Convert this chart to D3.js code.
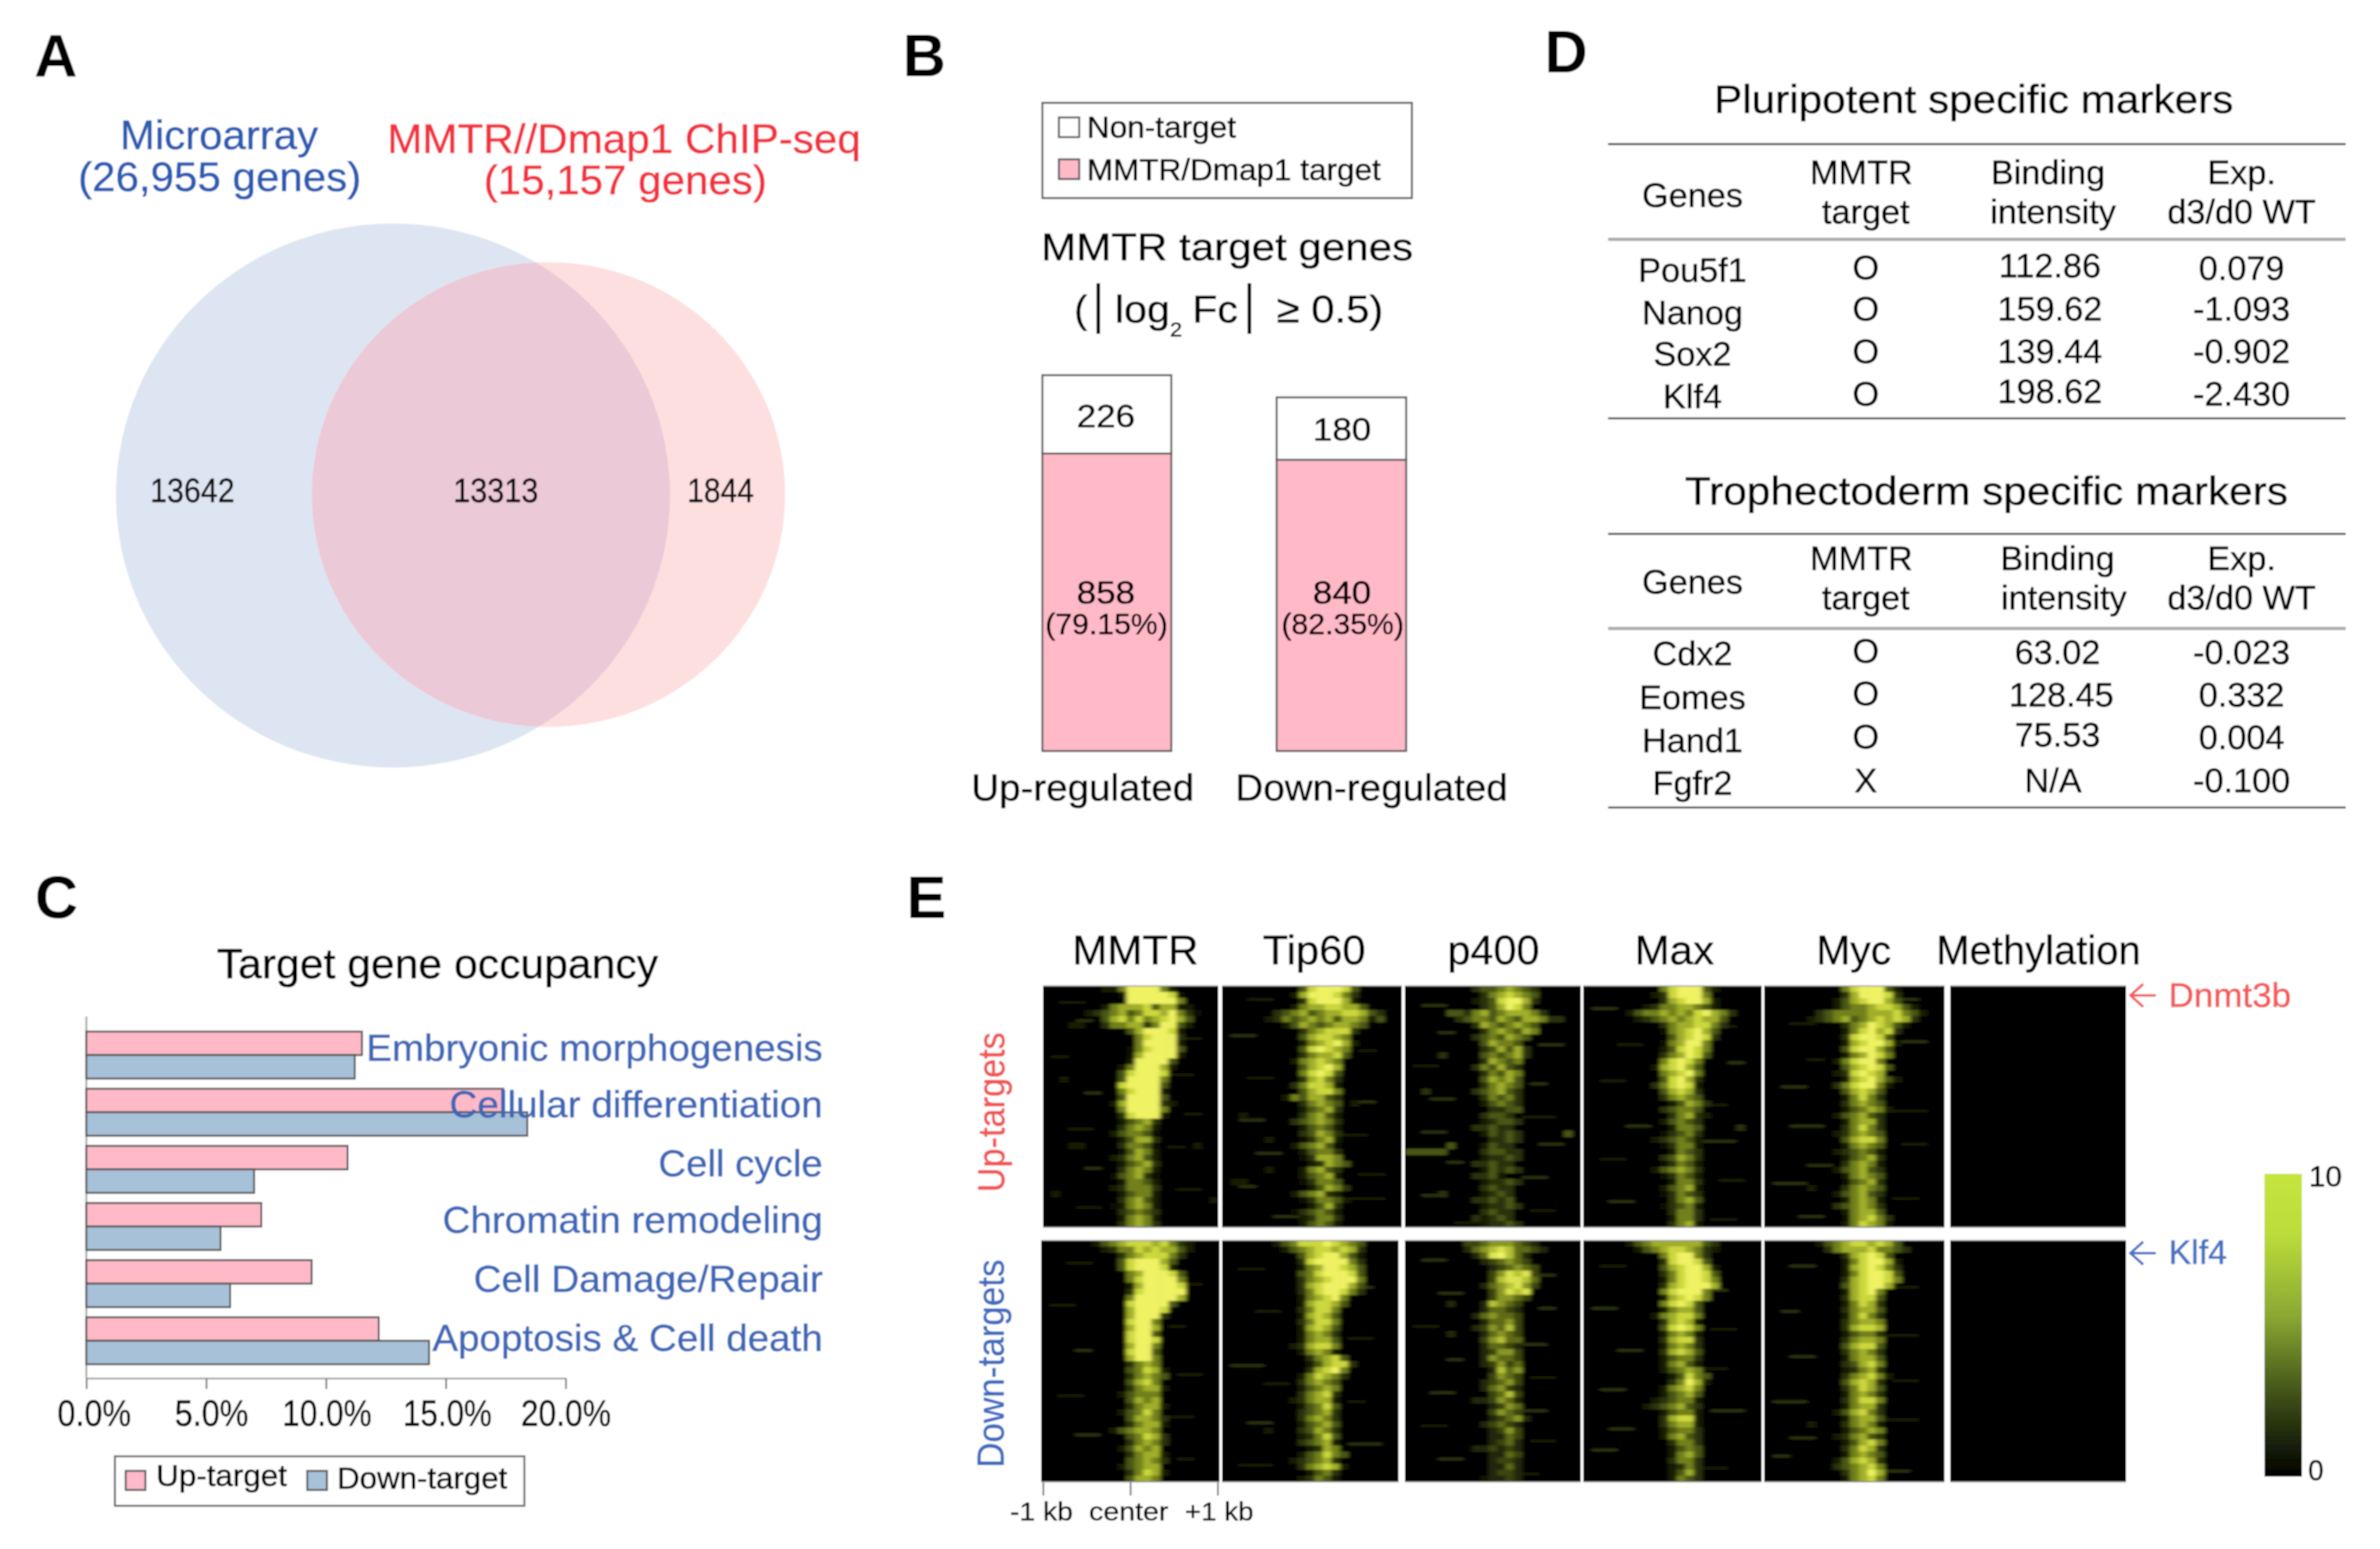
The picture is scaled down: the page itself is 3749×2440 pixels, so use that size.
<!DOCTYPE html>
<html><head><meta charset="utf-8">
<script src="https://cdn.jsdelivr.net/npm/d3@7"></script>
<style>html,body{margin:0;padding:0;background:#fff}svg{display:block}text{font-family:"Liberation Sans",Arial,sans-serif}</style>
</head><body><div id="chart"></div>
<script>
// ---- Panel A
const vennSets = [26955, 15157];
const vennRegions = [13642, 13313, 1844];
// ---- Panel B
const barGroups = ["Up-regulated", "Down-regulated"];
const targetCounts = [858, 840];
const nonTargetCounts = [226, 180];
const targetPercents = ["(79.15%)", "(82.35%)"];
// ---- Panel C
const goTerms = ["Embryonic morphogenesis","Cellular differentiation","Cell cycle","Chromatin remodeling","Cell Damage/Repair","Apoptosis & Cell death"];
const upTarget = [11.5, 17.4, 10.9, 7.3, 9.4, 12.2];
const downTarget = [11.2, 18.4, 7.0, 5.6, 6.0, 14.3];
const occupancyTicks = [0, 5, 10, 15, 20];
// ---- Panel D
const pluriGenes = ["Pou5f1","Nanog","Sox2","Klf4"];
const pluriTarget = ["O","O","O","O"];
const pluriBinding = ["112.86","159.62","139.44","198.62"];
const pluriExp = ["0.079","-1.093","-0.902","-2.430"];
const tropGenes = ["Cdx2","Eomes","Hand1","Fgfr2"];
const tropTarget = ["O","O","O","X"];
const tropBinding = ["63.02","128.45","75.53","N/A"];
const tropExp = ["-0.023","0.332","0.004","-0.100"];
// ---- Panel E (each row is a stretch of genes, each digit a signal bin, 0-9)
const heatColumns = ["MMTR","Tip60","p400","Max","Myc","Methylation"];
const mmtrUp = ["000000033699996300000","000000000299999810000","000000000099999960000","000000036777857733000","000003456756887964200","000000057868678975000","000330046677469953000","000000000057999830000","000000000006899940000","000000000006999930000","000000000026899950000","000000000027999930000","000000000039999500000","000000000369997300000","000000000589998000000","003000000599996000000","000000000899995000000","000000000689993000000","000000000599995000000","000000003799994300000","000000000699996000000","000000000489993000000","000000000356740000000","000000000467630000000","000000003566520000000","000000000357740000000","000330000466520000300","000000000257630000000","000000003467530000000","000000000356740000000","000000000467630000000","000000002567420000000","000000000366530000000","000000003466640000000","030000000356630000000","000000000467530000003","000000002367630000000","000000000456540000000","000000000367630000000","000000000467640000000"];
const tip60Up = ["000000000589998500000","000000003799986400000","000000000489997300000","000000003677887750000","000000456756778875400","000003465676757763500","000000035765677650000","000000000467888400000","000000000578876000000","000000000367897300000","000000000589876000000","000000000467785000000","000000003678760000000","000000000578970000000","000000000689850000000","000000000478640000000","000000004688730000000","000000000578860000000","000000036577540000000","000000000467650300000","000000000356740000000","003000000467530000000","000000004567640000000","000000000356530000000","000000000457640000000","000003000246730000000","000000003567520000000","000000000356640000000","000000000247760000000","000000000034765000000","000003000367540000000","000000000356730000000","033000000246650000000","000000000035764000000","000000003567430000000","000000000246653000000","000000000035740000000","000000002456530000000","000000000346640000000","000000000356530000000"];
const p400Up = ["000000003445654300000","000000000356765400000","000000002347886300000","000000000346875000000","000004435645666530000","000000345546546653300","000000003654565400000","000000000356546500000","000000003454654000000","000000000465540000000","000000000346463000000","000030000454563000000","000000000365450000000","000000003546430000000","000000000354650000000","000000000465640000000","000000000356540000000","003000003456430000000","000000000354530000000","000000000245430000000","000000000033440000000","000000000344300000000","000000000234430000000","000000003343300000000","000000000243430000040","000000000033430000000","000004000243300000000","444440000344330000000","000000000233430000000","000000003343300000000","000000000243430000000","000000003342000000000","000000000233430000000","000000000343300000000","000030000234300000000","000000003343400000000","000000000233430000000","000000000343300000000","000000003234300000000","000000000233430000000"];
const maxUp = ["000000000689995300000","000000003489996000000","000000000478997300000","000000034667765300000","000003566767689764000","000000345676787750000","000000000467788640000","000000000267897500000","000000000057898400000","000000000267996000000","000000000358986000000","000000000467985000000","000000000689860000000","000000003789750000000","000000000678960000000","000000000589740000000","000000004689830000000","000000000578740000000","000000000467650000000","000000000035764000000","000000000456650000000","000000000046743000000","000000000356540000000","000000000036650000400","000000000245640000000","000000003456530000000","000000000246630000000","000000000036540000000","000000000457640000000","000000000246530000000","000000003567640000000","000000000246530000000","000000000036640000000","000000000356730000000","000000000246540000000","000000000046750000000","000000000245630000000","000000000046640000000","000000000036640000000","000000000046730000000"];
const mycUp = ["000000000689995300000","000000000479998400000","000000003578997500000","000000003566788753000","000000456666777865300","000003456756787874000","000000000467987530000","000000000368978400000","000000000489985000000","000000000378997300000","000000000589975000000","000000000367986000000","000000003689960000000","000000000578985000000","000000003489870000000","000000000378975300000","000000004689963000000","000000000578750000000","000000000368640000000","000000000467650000000","000000000356763000000","000000003567540000000","000000000367740000000","000000000468640000000","000000003467650000000","000000000578860000000","000000000367650000000","000000003456530000000","000000000356740000000","000000000467630000000","000000003567540000000","000000000367650000000","000000000256740000000","000003000467650000000","000000003567540000000","000000000367630000000","000000004567640000000","000000000367750000000","000000000267864000000","000000000368763000000"];
const mmtrDown = ["000000356788878643000","000000034668787753000","000000000467888640000","000000000589997500000","000000000589998300000","000000000067999850000","000000000068999960000","000000000037999980000","000000000048999990000","000000000069999970000","000000000089999500000","000000000079998000000","000000000079994000000","000000000089960000000","000000000079970000000","000000000089950000000","000000000089980000000","000000000079960000000","000000000089950000000","000000000079960000000","000000000046760000000","000000000056873000000","000000000046765000000","000000000057860000000","000000000046773000000","000000000356660000000","000000000057670000000","000000000046773000000","000000000356860000000","000000000057764000000","000000000046773000000","000000003567760000000","000000000056874000000","000000000046764000000","000000000357670000000","000000000046773000000","000000000056764000000","000000000356770000000","000000000046873000000","000000000057760000000"];
const tip60Down = ["000000356888987650000","000000035678878740000","000000000578997530000","000000000489999640000","000000000367998750000","000000000568999850000","000000000467899960000","000000000478999750000","000000000468998640000","000000000367896000000","000000000378875000000","000000000468860000000","000000000378750000000","000000000468860000000","000000000378750000000","000000000367640000000","000000000367750000000","000000003478860000000","000000000367630000000","000000000046785000000","000000000035788400000","000000000047896000000","000000000368764000000","000000000467650000000","000000000356760000000","000000000467840000000","000000003467730000000","000000000356850000000","000000000456740000000","000000000467640000000","000000000356750000000","000003000457640000000","000000000346850000000","000000000456730000000","000000000034760000000","000000000356865000000","000000003456740000000","000000000467873000000","000000000035640000000","000000000346530000000"];
const p400Down = ["000000044566654300000","000000035678755430000","000000003589753000000","000000000345654000000","000000000034565400000","000000000046878400000","000000000047887500000","000000000356786400000","000000000046878000000","000000000046654000000","000003000376540000000","000000000355430000000","000000003565540000000","000000000355640000000","000000003465740000000","000003000356540000000","000000000467550000000","000000000355430000000","000000000346640000000","000000000365540000000","000000000346450000000","000000000037560000000","000000000046540000000","000000000345640000000","000000000356430000000","000000000045740000000","000000003346530000000","000000000034650000000","000000000046540000000","000000000034563000000","000000000345430000000","000000000034640000000","000000000033540000000","000000000034530000000","000000003343430000000","000000000033540000000","000000000034430000000","000000000033530000000","000000000034430000000","000000000233430000000"];
const maxDown = ["000003567777775400000","000000356788764300000","000000000689964000000","000000000489985000000","000000000578997300000","000000000468998500000","000000000368998600000","000000000478999700000","000000000689996000000","000000000378986000000","000000000689850000000","000000000367750000000","000000003678860000000","000000000478730000000","000000000589860000000","000000000367630000000","000000000478840000000","000000000367640000000","000000000478750000000","000000000356640000000","000000000367530000000","000000000356760000000","000000000035865000000","000000000046973000000","000000000367860000000","000000000356750000000","000000003456630000000","000000034567540000000","000000000356630000000","000000000478830000000","000000000467730000000","000000000356640000000","000000000367540000000","000000000046640000000","000000000035650000000","000000000036750000000","000000000046640000000","000000000034640000000","000000000035740000000","000000000036540000000"];
const mycDown = ["000000356788787500000","000000046777866540000","000000000478985000000","000000000368997300000","000000000378986400000","000000000368998500000","000000000478998600000","000000000578997000000","000000000378960000000","000000000478850000000","000000000368740000000","000000000467750000000","000000000368640000000","000000000467760000000","000000000478870000000","000000000356640000000","000000000467760000000","000000000578850000000","000000000467640000000","000000000367750000000","000000000457860000000","000000000346740000000","000000000467863000000","000000000578740000000","000000000468750000000","000000000367640000000","000000000468860000000","000000000367740000000","000000003578640000000","000000000367750000000","000003000467630000000","000000000356760000000","000000003467540000000","000000000357860000000","000000000468740000000","000000000367650000000","000000003578740000000","000000004567860000000","000000000467970000000","000000000367860000000"];
// faint short streaks outside the central band: [row 0-79, first bin, bins long, level]
const flankMmtrUp = [[5,2,3,3],[11,4,2,4],[17,16,3,3],[23,1,2,3],[29,15,3,3],[35,5,2,4],[42,17,2,3],[47,3,3,3],[53,15,2,3],[60,5,2,4],[67,16,3,3],[73,4,3,3]];
const flankTip60Up = [[4,3,3,3],[16,1,3,4],[21,16,2,3],[30,3,3,3],[38,15,3,4],[44,2,3,4],[49,14,3,3],[55,4,3,4],[62,16,3,3],[66,2,2,4],[70,15,4,3],[76,6,3,4]];
const flankP400Up = [[6,2,3,4],[10,15,3,3],[15,4,2,4],[19,16,3,4],[26,1,3,3],[32,15,2,4],[37,3,3,4],[43,14,4,3],[48,2,3,4],[52,16,3,4],[58,5,2,4],[63,14,3,4],[69,2,3,4],[74,15,3,3],[78,6,3,3]];
const flankMaxUp = [[7,1,3,4],[13,15,3,3],[19,4,3,3],[25,17,2,4],[31,2,3,3],[39,15,2,3],[46,5,3,4],[51,14,4,4],[57,2,3,3],[64,16,3,3],[71,3,3,4],[77,15,3,3]];
const flankMycUp = [[4,15,3,4],[12,3,3,3],[18,16,3,4],[24,5,2,3],[33,2,3,4],[41,15,4,3],[46,3,4,4],[52,16,3,3],[59,5,3,4],[65,1,4,4],[70,15,3,3],[76,4,3,4]];
const flankMmtrDown = [[7,3,3,3],[14,16,3,3],[21,1,3,3],[28,15,2,3],[36,4,2,4],[44,16,3,3],[51,2,3,3],[58,15,3,3],[64,4,3,4],[72,16,2,3]];
const flankTip60Down = [[9,2,3,3],[15,16,2,4],[23,4,3,3],[32,15,3,3],[41,1,4,4],[47,5,3,3],[53,15,2,3],[60,3,3,4],[67,15,4,4],[74,2,4,3]];
const flankP400Down = [[6,2,3,4],[11,15,3,4],[17,4,3,4],[22,16,2,4],[28,1,3,3],[34,14,3,4],[39,5,2,4],[45,15,3,3],[50,3,3,4],[56,14,3,4],[61,2,3,3],[66,15,3,3],[72,4,3,4],[77,13,3,3]];
const flankMaxDown = [[8,2,3,3],[16,14,3,4],[22,1,3,4],[29,15,3,3],[36,4,3,4],[42,14,3,3],[49,2,3,4],[56,15,4,4],[62,3,3,4],[69,1,3,4],[75,14,3,3]];
const flankMycDown = [[8,3,3,4],[15,15,3,3],[23,2,2,4],[31,14,4,3],[38,3,3,4],[46,15,3,3],[53,1,4,4],[59,14,4,3],[65,3,3,4],[71,1,2,4],[76,14,3,4]];
const methylationUp = [];
const methylationDown = [];
const scaleStops = [0, 2.6, 5.3, 8, 10];
const kbTicks = [-1, 0, 1];
const kbLabels = ["-1 kb", "center", "+1 kb"];

const W = 3749, H = 2440;
const svg = d3.select("#chart").append("svg").attr("width", W).attr("height", H).attr("viewBox", `0 0 ${W} ${H}`);
const defs = svg.append("defs");
const soft = defs.append("filter").attr("id","soft").attr("x",0).attr("y",0).attr("width",1).attr("height",1).attr("filterUnits","objectBoundingBox");
soft.append("feGaussianBlur").attr("stdDeviation",0.9);
const streak = defs.append("filter").attr("id","streak").attr("x","-5%").attr("y","-5%").attr("width","110%").attr("height","110%");
streak.append("feGaussianBlur").attr("stdDeviation","3 0.9");

const root = svg.append("g").attr("filter","url(#soft)");
root.append("rect").attr("width",W).attr("height",H).attr("fill","#fff");

function T(p, s, o) {
  const c = o.fill||"#000";
  const t = p.append("text").text(s).attr("x",o.x).attr("y",o.y)
    .attr("font-size",o.size).attr("fill",c).attr("stroke",c).attr("stroke-width",o.weight?0:0.7)
    .attr("text-anchor",o.anchor||"middle");
  if (o.weight) t.attr("font-weight",o.weight);
  if (o.w) t.attr("textLength",o.w).attr("lengthAdjust","spacingAndGlyphs");
  return t;
}
// panel letters
[["A",54,121],["B",1422,120],["C",55,1446],["D",2433,114],["E",1428,1446]].forEach(d=>{
  T(root,d[0],{x:d[1],y:d[2],size:94,anchor:"start",weight:700,fill:"#000"});
});

// ===== A =====
const gA = root.append("g");
const rVenn = d3.scaleLinear().domain([vennSets[1],vennSets[0]]).range([369,432]);
const vennCy = [780.5,779], vennCx = [619, 864], vennRx=1.01, vennRy=0.992;
defs.append("clipPath").attr("id","vennClip").append("ellipse").attr("cx",vennCx[0]).attr("cy",vennCy[0]).attr("rx",rVenn(vennSets[0])*vennRx).attr("ry",rVenn(vennSets[0])*vennRy);
gA.selectAll("ellipse.v").data(vennSets).join("ellipse").attr("class","v")
  .attr("cx",(d,i)=>vennCx[i]).attr("cy",(d,i)=>vennCy[i]).attr("rx",d=>rVenn(d)*vennRx).attr("ry",d=>rVenn(d)*vennRy).attr("fill",(d,i)=>i?"#fddfe0":"#dee5f2");
gA.append("ellipse").attr("cx",vennCx[1]).attr("cy",vennCy[1]).attr("rx",rVenn(vennSets[1])*vennRx).attr("ry",rVenn(vennSets[1])*vennRy).attr("fill","#ebc9d6").attr("clip-path","url(#vennClip)");
const fmt = d3.format(",");
T(gA,"Microarray",{x:345,y:235,size:64,w:312,fill:"#2c5bb3"});
T(gA,`(${fmt(vennSets[0])} genes)`,{x:346,y:301,size:64,w:446,fill:"#2c5bb3"});
T(gA,"MMTR//Dmap1 ChIP-seq",{x:983,y:241,size:64,w:746,fill:"#f2333f"});
T(gA,`(${fmt(vennSets[1])} genes)`,{x:985,y:306,size:64,w:446,fill:"#f2333f"});
[[303,133],[781,134],[1135,105]].forEach((p,i)=>T(gA,String(vennRegions[i]),{x:p[0],y:791,size:54,w:p[1],fill:"#111"}));

// ===== B =====
const gB = root.append("g");
const PINK="#ffb9c7", EDGE="#5a5a5a";
const yB = d3.scaleLinear().domain([0,1084]).range([1183,591]);
const xB = d3.scaleOrdinal().domain(barGroups).range([1642,2011]);
const bw = [203,204];
gB.append("rect").attr("x",1642).attr("y",162).attr("width",582).attr("height",150).attr("fill","#fff").attr("stroke",EDGE).attr("stroke-width",3);
[["Non-target","#fff",185,217,235],["MMTR/Dmap1 target",PINK,251,284,463]].forEach(d=>{
  gB.append("rect").attr("x",1668).attr("y",d[2]).attr("width",32).attr("height",31).attr("fill",d[1]).attr("stroke",EDGE).attr("stroke-width",3);
  T(gB,d[0],{x:1712,y:d[3],size:48,w:d[4],anchor:"start"});
});
T(gB,"MMTR target genes",{x:1933,y:410,size:62,w:586});
T(gB,"(",{x:1692,y:508,size:62,anchor:"start"});
[1730,1968].forEach(x=>gB.append("line").attr("x1",x).attr("x2",x).attr("y1",446).attr("y2",526).attr("stroke","#111").attr("stroke-width",6));
T(gB,"log",{x:1756,y:508,size:62,w:87,anchor:"start"});
T(gB,"2",{x:1843,y:530,size:32,w:19,anchor:"start"});
T(gB,"Fc",{x:1878,y:508,size:62,w:72,anchor:"start"});
T(gB,"≥ 0.5)",{x:2011,y:508,size:62,w:168,anchor:"start"});
gB.selectAll("rect.t").data(barGroups).join("rect").attr("class","t")
  .attr("x",d=>xB(d)).attr("width",(d,i)=>bw[i]).attr("y",(d,i)=>yB(targetCounts[i])).attr("height",(d,i)=>yB(0)-yB(targetCounts[i]))
  .attr("fill",PINK).attr("stroke",EDGE).attr("stroke-width",3);
gB.selectAll("rect.n").data(barGroups).join("rect").attr("class","n")
  .attr("x",d=>xB(d)).attr("width",(d,i)=>bw[i]).attr("y",(d,i)=>yB(targetCounts[i]+nonTargetCounts[i])).attr("height",(d,i)=>yB(0)-yB(nonTargetCounts[i]))
  .attr("fill","#fff").attr("stroke",EDGE).attr("stroke-width",3);
const bCx=[1742,2114], bNy=[673,694];
barGroups.forEach((g,i)=>{
  T(gB,String(nonTargetCounts[i]),{x:bCx[i],y:bNy[i],size:50,w:92});
  T(gB,String(targetCounts[i]),{x:bCx[i],y:951,size:50,w:92});
  T(gB,targetPercents[i],{x:bCx[i]+1,y:999,size:46,w:193});
});
[[1530,351],[1946,429]].forEach((p,i)=>T(gB,barGroups[i],{x:p[0],y:1261,size:60,w:p[1],anchor:"start"}));

// ===== C =====
const gC = root.append("g");
const BLUEBAR="#a7c1d9", LBL="#3e67b8";
const xC = d3.scaleLinear().domain([0,20]).range([136,891]);
const yC = d3.scaleBand().domain(goTerms).range([1625,2149]).paddingInner(0.178).paddingOuter(0);
T(gC,"Target gene occupancy",{x:689,y:1541,size:66,w:695});
gC.append("line").attr("x1",xC(0)).attr("x2",xC(0)).attr("y1",1601).attr("y2",2171).attr("stroke","#aaa").attr("stroke-width",3);
gC.selectAll("rect.u").data(goTerms).join("rect").attr("class","u")
  .attr("x",xC(0)).attr("y",d=>yC(d)).attr("width",(d,i)=>xC(upTarget[i])-xC(0)).attr("height",yC.bandwidth()/2)
  .attr("fill",PINK).attr("stroke",EDGE).attr("stroke-width",3);
gC.selectAll("rect.d").data(goTerms).join("rect").attr("class","d")
  .attr("x",xC(0)).attr("y",d=>yC(d)+yC.bandwidth()/2).attr("width",(d,i)=>xC(downTarget[i])-xC(0)).attr("height",yC.bandwidth()/2)
  .attr("fill",BLUEBAR).attr("stroke",EDGE).attr("stroke-width",3);
const axC = gC.append("g").attr("transform","translate(0,2171)")
  .call(d3.axisBottom(xC).tickValues(occupancyTicks).tickSize(17).tickSizeOuter(0).tickFormat(d=>d3.format(".1f")(d)+"%"));
axC.select(".domain").attr("stroke","#aaa").attr("stroke-width",3);
axC.selectAll(".tick line").attr("stroke","#888").attr("stroke-width",3);
const tickShift=[12,8,1,2,0], tickW=[116,116,141,140,142];
axC.selectAll(".tick text").attr("y",0).attr("dy",0).attr("transform","translate(0,75)")
  .attr("font-size",58).attr("fill","#000").attr("stroke","#000").attr("stroke-width",0.7).attr("font-family",'"Liberation Sans"')
  .attr("x",(d,i)=>tickShift[i]).attr("textLength",(d,i)=>tickW[i]).attr("lengthAdjust","spacingAndGlyphs");
const labelY=[1671,1760,1853,1942,2035,2128], labelW=[719,588,259,599,550,615];
goTerms.forEach((t,i)=>T(gC,t,{x:1296,y:labelY[i],size:60,w:labelW[i],anchor:"end",fill:LBL}));
gC.append("rect").attr("x",181).attr("y",2294).attr("width",645).attr("height",78).attr("fill","#fff").attr("stroke","#666").attr("stroke-width",3);
[["Up-target",PINK,198,246,206,2341],["Down-target",BLUEBAR,484,531,268,2345]].forEach(d=>{
  gC.append("rect").attr("x",d[2]).attr("y",2317).attr("width",31).attr("height",30).attr("fill",d[1]).attr("stroke",EDGE).attr("stroke-width",3);
  T(gC,d[0],{x:d[3],y:d[5],size:48,w:d[4],anchor:"start"});
});

// ===== D =====
const gD = root.append("g");
const rule=(y,c,sw)=>gD.append("line").attr("x1",2533).attr("x2",3695).attr("y1",y).attr("y2",y).attr("stroke",c).attr("stroke-width",sw);
const tableX={gene:2666,target:2939,exp:3531};
function table(o){
  T(gD,o.title,{x:o.titleX,y:o.titleY,size:63,w:o.titleW});
  rule(o.rules[0],"#444",3); rule(o.rules[1],"#aaa",5); rule(o.rules[2],"#444",3);
  T(gD,"Genes",{x:tableX.gene,y:o.head[1],size:54});
  T(gD,"MMTR",{x:2932,y:o.head[0],size:54}); T(gD,"target",{x:tableX.target,y:o.head[2],size:54});
  T(gD,"Binding",{x:o.bindHead[0],y:o.head[0],size:54}); T(gD,"intensity",{x:o.bindHead[1],y:o.head[2],size:54});
  T(gD,"Exp.",{x:tableX.exp,y:o.head[0],size:54}); T(gD,"d3/d0 WT",{x:tableX.exp,y:o.head[2],size:54});
  o.genes.forEach((g,i)=>{
    T(gD,g,{x:tableX.gene,y:o.geneY[i],size:54});
    T(gD,o.target[i],{x:tableX.target,y:o.targetY[i],size:54});
    T(gD,o.binding[i],{x:o.bindX[i],y:o.bindY[i],size:54});
    T(gD,o.exp[i],{x:tableX.exp,y:o.expY[i],size:54});
  });
}
table({title:"Pluripotent specific markers",titleX:3109,titleY:178,titleW:818,rules:[227,377,659],head:[290,326,352],bindHead:[3226,3234],
  genes:pluriGenes,target:pluriTarget,binding:pluriBinding,exp:pluriExp,
  geneY:[444,511,576,643],targetY:[440,505,572,639],bindX:[3229,3229,3229,3229],bindY:[437,505,572,635],expY:[441,505,572,639]});
table({title:"Trophectoderm specific markers",titleX:3129,titleY:795,titleW:950,rules:[841,990,1272],head:[898,935,960],bindHead:[3241,3251],
  genes:tropGenes,target:tropTarget,binding:tropBinding,exp:tropExp,
  geneY:[1048,1117,1185,1252],targetY:[1044,1111,1179,1248],bindX:[3241,3247,3241,3234],bindY:[1046,1113,1176,1248],expY:[1046,1113,1180,1248]});

// ===== E =====
const gE = root.append("g");
const heatColor = d3.scaleLinear().domain([0,2,3,4,5,6,7,8,9,10]).range(["#040500","#0a0c02","#161b05","#2b330b","#4a5614","#72801e","#a0ae2b","#ccd83e","#eef263","#f4f76a"]);
const barColor = d3.scaleLinear().domain(scaleStops).range(["#000000","#3e4e17","#8aa833","#bbdc3b","#c5e53d"]);
const cols = d3.range(21);
const nRows = 40;
const panels = [
 {m:mmtrUp,f:flankMmtrUp,x:1643,w:276,row:0,gain:0},{m:tip60Up,f:flankTip60Up,x:1925,w:283,row:0,gain:0},{m:p400Up,f:flankP400Up,x:2213,w:277,row:0,gain:1},
 {m:maxUp,f:flankMaxUp,x:2494,w:281,row:0,gain:0},{m:mycUp,f:flankMycUp,x:2779,w:284,row:0,gain:0},{m:methylationUp,f:[],x:3072,w:277,row:0,gain:0},
 {m:mmtrDown,f:flankMmtrDown,x:1640,w:281,row:1,gain:0},{m:tip60Down,f:flankTip60Down,x:1925,w:278,row:1,gain:0},{m:p400Down,f:flankP400Down,x:2213,w:277,row:1,gain:0.5},
 {m:maxDown,f:flankMaxDown,x:2494,w:281,row:1,gain:0},{m:mycDown,f:flankMycDown,x:2779,w:284,row:1,gain:0},{m:methylationDown,f:[],x:3072,w:277,row:1,gain:0}];
const rowTop=[1553,1954], rowH=380;
panels.forEach((p,k)=>{
  const cid="pc"+k, y0=rowTop[p.row];
  defs.append("clipPath").attr("id",cid).append("rect").attr("x",p.x).attr("y",y0).attr("width",p.w).attr("height",rowH);
  const g=gE.append("g");
  g.append("rect").attr("x",p.x).attr("y",y0).attr("width",p.w).attr("height",rowH).attr("fill",p.m.length?"#040500":"#020300");
  const xs=d3.scaleBand().domain(cols).range([p.x,p.x+p.w]);
  const ys=d3.scaleBand().domain(d3.range(nRows)).range([y0,y0+rowH]);
  const fineY=d3.scaleBand().domain(d3.range(80)).range([y0,y0+rowH]);
  const cells=[];
  p.m.forEach((s,r)=>cols.forEach(c=>{const v=+s.charAt(c); if(v>0)cells.push({r,c,v});}));
  const inner=g.append("g").attr("clip-path",`url(#${cid})`).append("g").attr("filter","url(#streak)");
  inner.append("rect").attr("x",p.x-20).attr("y",y0-10).attr("width",p.w+40).attr("height",rowH+20).attr("fill","#040500");
  inner.selectAll("rect.f").data(p.f).join("rect").attr("class","f")
    .attr("x",d=>xs(d[1])).attr("y",d=>fineY(d[0])).attr("width",d=>xs.bandwidth()*d[2]).attr("height",fineY.bandwidth())
    .attr("fill",d=>heatColor(d[3]));
  inner.selectAll("rect.c").data(cells).join("rect").attr("class","c")
    .attr("x",d=>xs(d.c)).attr("y",d=>ys(d.r)).attr("width",xs.bandwidth()+.5).attr("height",ys.bandwidth()+.5)
    .attr("fill",d=>heatColor(d.v+p.gain));
  g.append("line").attr("x1",p.x).attr("x2",p.x+p.w).attr("y1",y0).attr("y2",y0).attr("stroke","#aaa").attr("stroke-width",2.5).attr("opacity",.7);
  g.append("line").attr("x1",p.x).attr("x2",p.x+p.w).attr("y1",y0+rowH).attr("y2",y0+rowH).attr("stroke","#888").attr("stroke-width",2.5).attr("opacity",.7);
});
const headX=[[1689,199],[1989,162],[2280,145],[2575,125],[2861,118],[3050,322]];
heatColumns.forEach((c,i)=>T(gE,c,{x:headX[i][0],y:1519,size:64,w:headX[i][1],anchor:"start"}));
T(gE,"Up-targets",{x:0,y:0,size:60,w:252,fill:"#f25555"}).attr("transform","translate(1582,1752) rotate(-90)");
T(gE,"Down-targets",{x:0,y:0,size:60,w:328,fill:"#3f6cc0"}).attr("transform","translate(1581,2148) rotate(-90)");
const arrow=(y,c)=>gE.append("path").attr("d",`M3396,${y}H3356M3376,${y-18}L3356,${y}L3376,${y+18}`).attr("fill","none").attr("stroke",c).attr("stroke-width",4);
arrow(1568,"#f55a5a"); arrow(1974,"#4472c4");
T(gE,"Dnmt3b",{x:3416,y:1586,size:54,w:193,anchor:"start",fill:"#f55a5a"});
T(gE,"Klf4",{x:3416,y:1991,size:54,w:92,anchor:"start",fill:"#4472c4"});
// kb axis
const xKb=d3.scaleLinear().domain([-1,1]).range([1643,1918]);
const axE=gE.append("g").attr("transform","translate(0,2335)").call(d3.axisBottom(xKb).tickValues(kbTicks).tickSize(21).tickSizeOuter(0).tickFormat((d,i)=>kbLabels[i]));
axE.select(".domain").remove();
axE.selectAll(".tick line").attr("stroke","#888").attr("stroke-width",3);
const kbW=[99,125,108], kbShift=[-3,-3,2];
axE.selectAll(".tick text").attr("y",0).attr("dy",0).attr("transform","translate(0,60)").attr("x",(d,i)=>kbShift[i]).attr("font-size",40).attr("fill","#000").attr("stroke","#000").attr("stroke-width",0.5)
  .attr("font-family",'"Liberation Sans"').attr("textLength",(d,i)=>kbW[i]).attr("lengthAdjust","spacingAndGlyphs");
// colour bar
const yBar=d3.scaleLinear().domain([0,10]).range([2326,1849]);
const grad=defs.append("linearGradient").attr("id","cbar").attr("x1",0).attr("x2",0).attr("y1",1).attr("y2",0);
scaleStops.forEach(v=>grad.append("stop").attr("offset",(v/10)).attr("stop-color",barColor(v)));
gE.append("rect").attr("x",3567).attr("y",yBar(10)).attr("width",59).attr("height",yBar(0)-yBar(10)).attr("fill","url(#cbar)");
T(gE,"10",{x:3637,y:yBar(10)+20,size:46,w:52,anchor:"start"});
T(gE,"0",{x:3636,y:yBar(0)+6,size:46,w:24,anchor:"start"});
</script></body></html>
